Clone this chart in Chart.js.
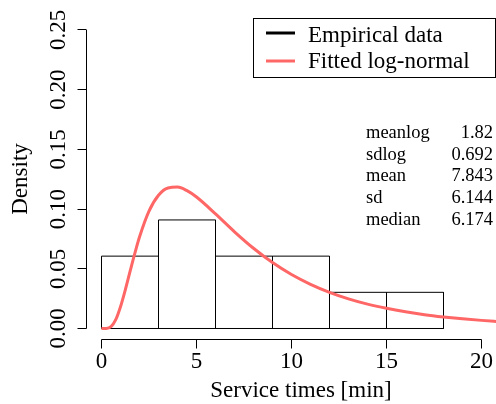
<!DOCTYPE html>
<html>
<head>
<meta charset="utf-8">
<script src="https://cdn.jsdelivr.net/npm/chart.js@4"></script>
<style>
  body { margin: 0; background: #fff; }
  canvas { display: block; }
</style>
</head>
<body>
<canvas id="hist" width="496" height="404"></canvas>
<script>
// histogram bins (service times, minutes) and densities
bin_edges = [0, 3, 6, 9, 12, 15, 18]
bin_density = [0.0606, 0.0909, 0.0606, 0.0606, 0.0303, 0.0303]

// fitted log-normal curve
curve_x = [0, 0.25, 0.5, 0.75, 1, 1.25, 1.5, 1.75, 2, 2.5, 3, 3.5, 4, 4.5, 5, 6, 7, 8, 9, 10, 11, 12, 13, 14, 15, 16, 17, 18, 19, 20, 21]
curve_y = [0, 0.00005, 0.0016, 0.0074, 0.0182, 0.0322, 0.0476, 0.0627, 0.0766, 0.0983, 0.1116, 0.1177, 0.1184, 0.1154, 0.1101, 0.0960, 0.0810, 0.0672, 0.0552, 0.0452, 0.0370, 0.0303, 0.0248, 0.0204, 0.0169, 0.0140, 0.0116, 0.0097, 0.0081, 0.0068, 0.0057]

x_ticks = [0, 5, 10, 15, 20]
y_ticks = [0, 0.05, 0.10, 0.15, 0.20, 0.25]
y_tick_labels = ["0.00", "0.05", "0.10", "0.15", "0.20", "0.25"]

legend_labels = ["Empirical data", "Fitted log-normal"]
stat_names = ["meanlog", "sdlog", "mean", "sd", "median"]
stat_values = ["1.82", "0.692", "7.843", "6.144", "6.174"]

const SERIF = '"Liberation Serif", "DejaVu Serif", serif';
const RED = "rgb(255,102,102)";

// outline of the histogram rectangles, traced bin by bin, then back along the base
function hist_outline() {
    let pts = [{x: bin_edges[0], y: 0}];
    bin_density.forEach((d, i) => {
        pts.push({x: bin_edges[i], y: d});
        pts.push({x: bin_edges[i + 1], y: d});
        pts.push({x: bin_edges[i + 1], y: 0});
    });
    pts.push({x: bin_edges[0], y: 0});
    return pts;
}

const rAxes = {
    id: "rAxes",
    afterDraw(chart) {
        const ctx = chart.ctx;
        const xs = chart.scales.x, ys = chart.scales.y;
        const area = chart.chartArea;
        ctx.save();
        ctx.strokeStyle = "#000";
        ctx.fillStyle = "#000";
        ctx.lineWidth = 1;

        // y axis
        const ax = Math.round(area.left) + 0.5;
        ctx.beginPath();
        ctx.moveTo(ax, ys.getPixelForValue(y_ticks[0]));
        ctx.lineTo(ax, ys.getPixelForValue(y_ticks[y_ticks.length - 1]));
        y_ticks.forEach(v => {
            const py = Math.round(ys.getPixelForValue(v) - 0.5) + 0.5;
            ctx.moveTo(ax, py);
            ctx.lineTo(ax - 9, py);
        });
        ctx.stroke();
        ctx.font = "23px " + SERIF;
        ctx.textAlign = "center";
        ctx.textBaseline = "alphabetic";
        y_ticks.forEach((v, i) => {
            ctx.save();
            ctx.translate(65, ys.getPixelForValue(v));
            ctx.rotate(-Math.PI / 2);
            ctx.fillText(y_tick_labels[i], 0, 0);
            ctx.restore();
        });

        // x axis
        const ay = Math.round(area.bottom) - 0.5;
        ctx.beginPath();
        ctx.moveTo(xs.getPixelForValue(x_ticks[0]), ay);
        ctx.lineTo(xs.getPixelForValue(x_ticks[x_ticks.length - 1]), ay);
        x_ticks.forEach(v => {
            const px = Math.round(xs.getPixelForValue(v) - 0.5) + 0.5;
            ctx.moveTo(px, ay);
            ctx.lineTo(px, ay + 9);
        });
        ctx.stroke();
        x_ticks.forEach(v => ctx.fillText(String(v), xs.getPixelForValue(v), 368));

        // axis titles
        ctx.fillText("Service times [min]", 301, 397);
        ctx.save();
        ctx.translate(27, (area.top + area.bottom) / 2);
        ctx.rotate(-Math.PI / 2);
        ctx.fillText("Density", 0, 0);
        ctx.restore();

        // legend
        ctx.strokeRect(253.5, 18.5, 242, 59);
        ctx.lineWidth = 3;
        ctx.strokeStyle = "#000";
        ctx.beginPath(); ctx.moveTo(266, 33); ctx.lineTo(295, 33); ctx.stroke();
        ctx.strokeStyle = RED;
        ctx.beginPath(); ctx.moveTo(266, 61); ctx.lineTo(295, 61); ctx.stroke();
        ctx.textAlign = "left";
        ctx.fillText(legend_labels[0], 308, 42);
        ctx.fillText(legend_labels[1], 308, 67.5);

        // fit summary
        ctx.font = "18.5px " + SERIF;
        stat_names.forEach((name, i) => {
            const by = 137.7 + i * 21.8;
            ctx.textAlign = "left";
            ctx.fillText(name, 366, by);
            ctx.textAlign = "right";
            ctx.fillText(stat_values[i], 493, by);
        });
        ctx.restore();
    }
};

new Chart(document.getElementById("hist").getContext("2d"), {
    type: "line",
    data: {
        datasets: [{
            label: legend_labels[0],
            data: hist_outline(),
            borderColor: "#000",
            borderWidth: 1,
            pointRadius: 0,
            tension: 0,
            fill: false,
            order: 2
        }, {
            label: legend_labels[1],
            data: curve_x.map((x, i) => ({x: x, y: curve_y[i]})),
            borderColor: RED,
            borderWidth: 3,
            pointRadius: 0,
            cubicInterpolationMode: "monotone",
            fill: false,
            order: 1
        }]
    },
    options: {
        responsive: false,
        animation: false,
        layout: { padding: { left: 86, right: 0, top: 18, bottom: 64 } },
        plugins: { legend: { display: false }, tooltip: { enabled: false } },
        scales: {
            // ranges picked so that bin edges land on pixel centres
            x: { type: "linear", min: -15.5 / 19, max: 394.5 / 19, offset: false, display: false },
            y: { min: -0.00963, max: 0.26, display: false }
        }
    },
    plugins: [rAxes]
});
</script>
</body>
</html>
